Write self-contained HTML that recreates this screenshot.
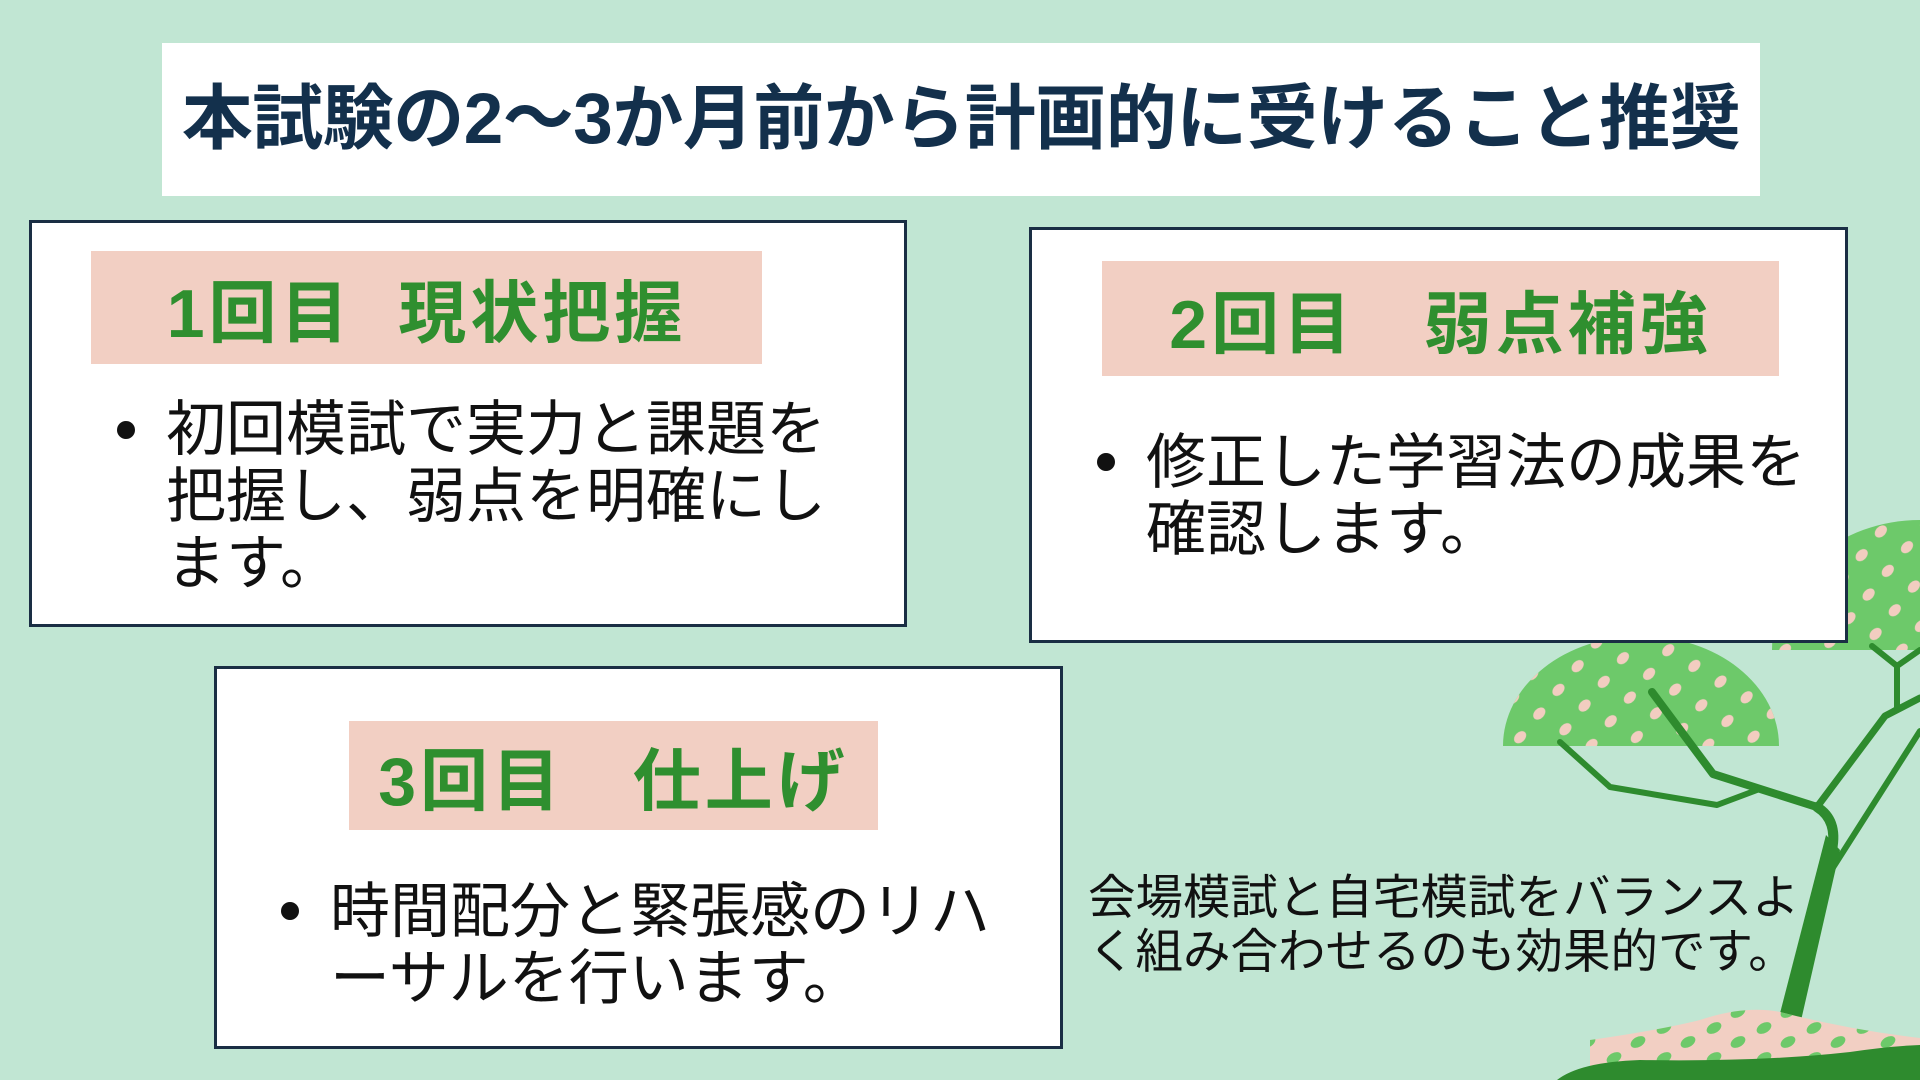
<!DOCTYPE html>
<html><head><meta charset="utf-8"><style>
*{margin:0;padding:0;box-sizing:border-box}
body{width:1920px;height:1080px;overflow:hidden;background:#c1e6d3;position:relative;font-family:"Liberation Sans","Noto Sans CJK JP",sans-serif}
.abs{position:absolute}
.title{left:162px;top:43px;width:1598px;height:153px;background:#fff;color:#13304c;font-weight:bold;font-size:71px;line-height:153px;text-align:center;letter-spacing:-0.5px;white-space:nowrap}
.box{background:#fff;border:3px solid #1a2e44}
.lab{background:#f2cfc3;color:#2f8f2f;font-weight:bold;font-size:68px;white-space:nowrap;display:flex;align-items:center;justify-content:center;letter-spacing:4px}
.txt{font-size:60px;line-height:67px;color:#111;white-space:nowrap}
.dot{width:18px;height:18px;border-radius:50%;background:#111}
</style></head><body>
<svg class="abs" style="left:0;top:0" width="1920" height="1080">
<defs>
<pattern id="dp" width="46" height="40" patternUnits="userSpaceOnUse" patternTransform="rotate(-10)">
<ellipse cx="12" cy="10" rx="7" ry="5" fill="#f2cdc0" transform="rotate(-35 12 10)"/>
<ellipse cx="35" cy="30" rx="7" ry="5" fill="#f2cdc0" transform="rotate(-35 35 30)"/>
</pattern>
<pattern id="gp" width="50" height="30" patternUnits="userSpaceOnUse">
<ellipse cx="14" cy="8" rx="8" ry="5" fill="#6dc96a" transform="rotate(-30 14 8)"/>
<ellipse cx="38" cy="22" rx="8" ry="5" fill="#6dc96a" transform="rotate(-30 38 22)"/>
</pattern>
</defs>
<path d="M1772 650 A148 130 0 0 1 1920 520 L1920 650 Z" fill="#6dc96a"/>
<path d="M1772 650 A148 130 0 0 1 1920 520 L1920 650 Z" fill="url(#dp)"/>
<path d="M1503 746 A138 110 0 0 1 1779 746 Z" fill="#6dc96a"/>
<path d="M1503 746 A138 110 0 0 1 1779 746 Z" fill="url(#dp)"/>
<g fill="none" stroke="#2e8b2e" stroke-linecap="round" stroke-linejoin="round">
<path d="M1817 807 L1713 774 L1652 692" stroke-width="8"/>
<path d="M1757 790 L1717 805 L1610 787 L1560 742" stroke-width="6"/>
<path d="M1817 807 L1885 716 L1920 698" stroke-width="7"/>
<path d="M1885 716 L1897 709 L1897 666 L1872 646" stroke-width="6"/>
<path d="M1897 666 L1920 650" stroke-width="6"/>
<path d="M1827 877 L1920 731" stroke-width="6"/>
<path d="M1817 807 Q1838 820 1832 850" stroke-width="10"/>
</g>
<path d="M1826 835 L1840 850 L1800 1025 L1777 1025 Z" fill="#2e8b2e"/>
<path d="M1590 1040 Q1660 1030 1700 1020 Q1745 1005 1780 1012 Q1850 1030 1920 1038 L1920 1070 L1590 1070 Z" fill="#f2cfc3"/>
<path d="M1590 1040 Q1660 1030 1700 1020 Q1745 1005 1780 1012 Q1850 1030 1920 1038 L1920 1070 L1590 1070 Z" fill="url(#gp)"/>
<path d="M1557 1080 Q1580 1062 1640 1060 Q1760 1062 1850 1052 Q1890 1046 1920 1045 L1920 1080 Z" fill="#2e8b2e"/>
</svg>
<div class="abs title">本試験の2〜3か月前から計画的に受けること推奨</div>

<div class="abs box" style="left:29px;top:220px;width:878px;height:407px"></div>
<div class="abs lab" style="left:91px;top:251px;width:671px;height:113px">1回目&nbsp;&nbsp;現状把握</div>
<div class="abs dot" style="left:117px;top:421px"></div>
<div class="abs txt" style="left:166px;top:396px">初回模試で実力と課題を<br>把握し、弱点を明確にし<br>ます。</div>

<div class="abs box" style="left:1029px;top:227px;width:819px;height:416px"></div>
<div class="abs lab" style="left:1102px;top:261px;width:677px;height:115px">2回目&nbsp;&nbsp;&nbsp;弱点補強</div>
<div class="abs dot" style="left:1097px;top:453px"></div>
<div class="abs txt" style="left:1146px;top:429px">修正した学習法の成果を<br>確認します。</div>

<div class="abs box" style="left:214px;top:666px;width:849px;height:383px"></div>
<div class="abs lab" style="left:349px;top:721px;width:529px;height:109px">3回目&nbsp;&nbsp;&nbsp;仕上げ</div>
<div class="abs dot" style="left:281px;top:902px"></div>
<div class="abs txt" style="left:330px;top:878px">時間配分と緊張感のリハ<br>ーサルを行います。</div>

<div class="abs" style="left:1088px;top:872px;font-size:47.5px;line-height:54px;color:#111;white-space:nowrap">会場模試と自宅模試をバランスよ<br>く組み合わせるのも効果的です。</div>
</body></html>
